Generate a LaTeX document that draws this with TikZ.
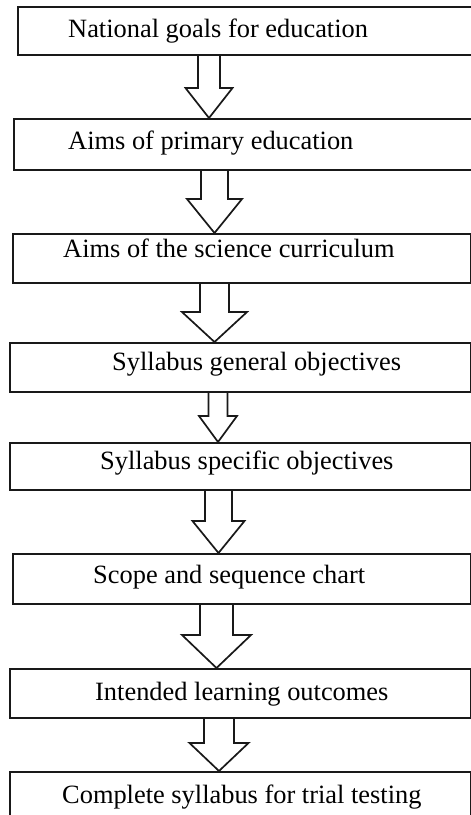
\documentclass[tikz,border=0pt]{standalone}
\usepackage{fontspec}
\setmainfont{Liberation Serif}
\usetikzlibrary{calc}

% hollow block arrow: from node, to node, tip x, shaft half width, head half width, head length
\newcommand{\hollowarrow}[6]{%
  \draw[blockarrow] let \p1=(#1.south), \p2=(#2.north) in
    ({(#3-#4)*1pt},\y1) -- ({(#3-#4)*1pt},\y2+#6pt) -- ({(#3-#5)*1pt},\y2+#6pt)
    -- (#3pt,\y2) -- ({(#3+#5)*1pt},\y2+#6pt) -- ({(#3+#4)*1pt},\y2+#6pt)
    -- ({(#3+#4)*1pt},\y1);}

\begin{document}
\begin{tikzpicture}[
    x=1pt, y=1pt,
    every node/.style={font=\fontsize{26.4}{30}\selectfont},
    stagebox/.style={rectangle, draw=black!90, line width=1.7pt, inner sep=0pt, anchor=north west},
    stagetext/.style={anchor=base west, inner sep=0pt},
    blockarrow/.style={draw=black!90, line width=1.7pt, line join=miter}
]

\useasboundingbox[fill=white] (0,0) rectangle (471,-815);

\node[stagebox, minimum width=463pt, minimum height=48pt] (goals) at (17,-6) {};
\node[stagebox, minimum width=467pt, minimum height=51pt] (primary) at (13,-118) {};
\node[stagebox, minimum width=458pt, minimum height=49pt] (science) at (12,-233) {};
\node[stagebox, minimum width=461pt, minimum height=49pt] (general) at (9,-342) {};
\node[stagebox, minimum width=461pt, minimum height=47pt] (specific) at (9,-442) {};
\node[stagebox, minimum width=458pt, minimum height=50pt] (scope) at (12,-553) {};
\node[stagebox, minimum width=461pt, minimum height=49pt] (outcomes) at (9,-668) {};
\node[stagebox, minimum width=461pt, minimum height=60pt] (trial) at (9,-771) {};

\node[stagetext] (goalstext) at (68,-37.5) {National goals for education};
\node[stagetext] (primarytext) at (68,-149) {Aims of primary education};
\node[stagetext] (sciencetext) at (63,-257) {Aims of the science curriculum};
\node[stagetext] (generaltext) at (112,-370) {Syllabus general objectives};
\node[stagetext] (specifictext) at (100,-469) {Syllabus specific objectives};
\node[stagetext] (scopetext) at (93,-583) {Scope and sequence chart};
\node[stagetext] (outcomestext) at (95,-700) {Intended learning outcomes};
\node[stagetext] (trialtext) at (62,-803) {Complete syllabus for trial testing};

\hollowarrow{goals}{primary}{209}{11}{23.5}{30}
\hollowarrow{primary}{science}{214.5}{13.5}{27.5}{34}
\hollowarrow{science}{general}{214.5}{14.5}{32.5}{30}
\hollowarrow{general}{specific}{218}{9.5}{19}{26}
\hollowarrow{specific}{scope}{218.5}{13.5}{26}{32}
\hollowarrow{scope}{outcomes}{216.5}{16.5}{34.5}{33}
\hollowarrow{outcomes}{trial}{219}{15}{29.5}{28}

\end{tikzpicture}
\end{document}
